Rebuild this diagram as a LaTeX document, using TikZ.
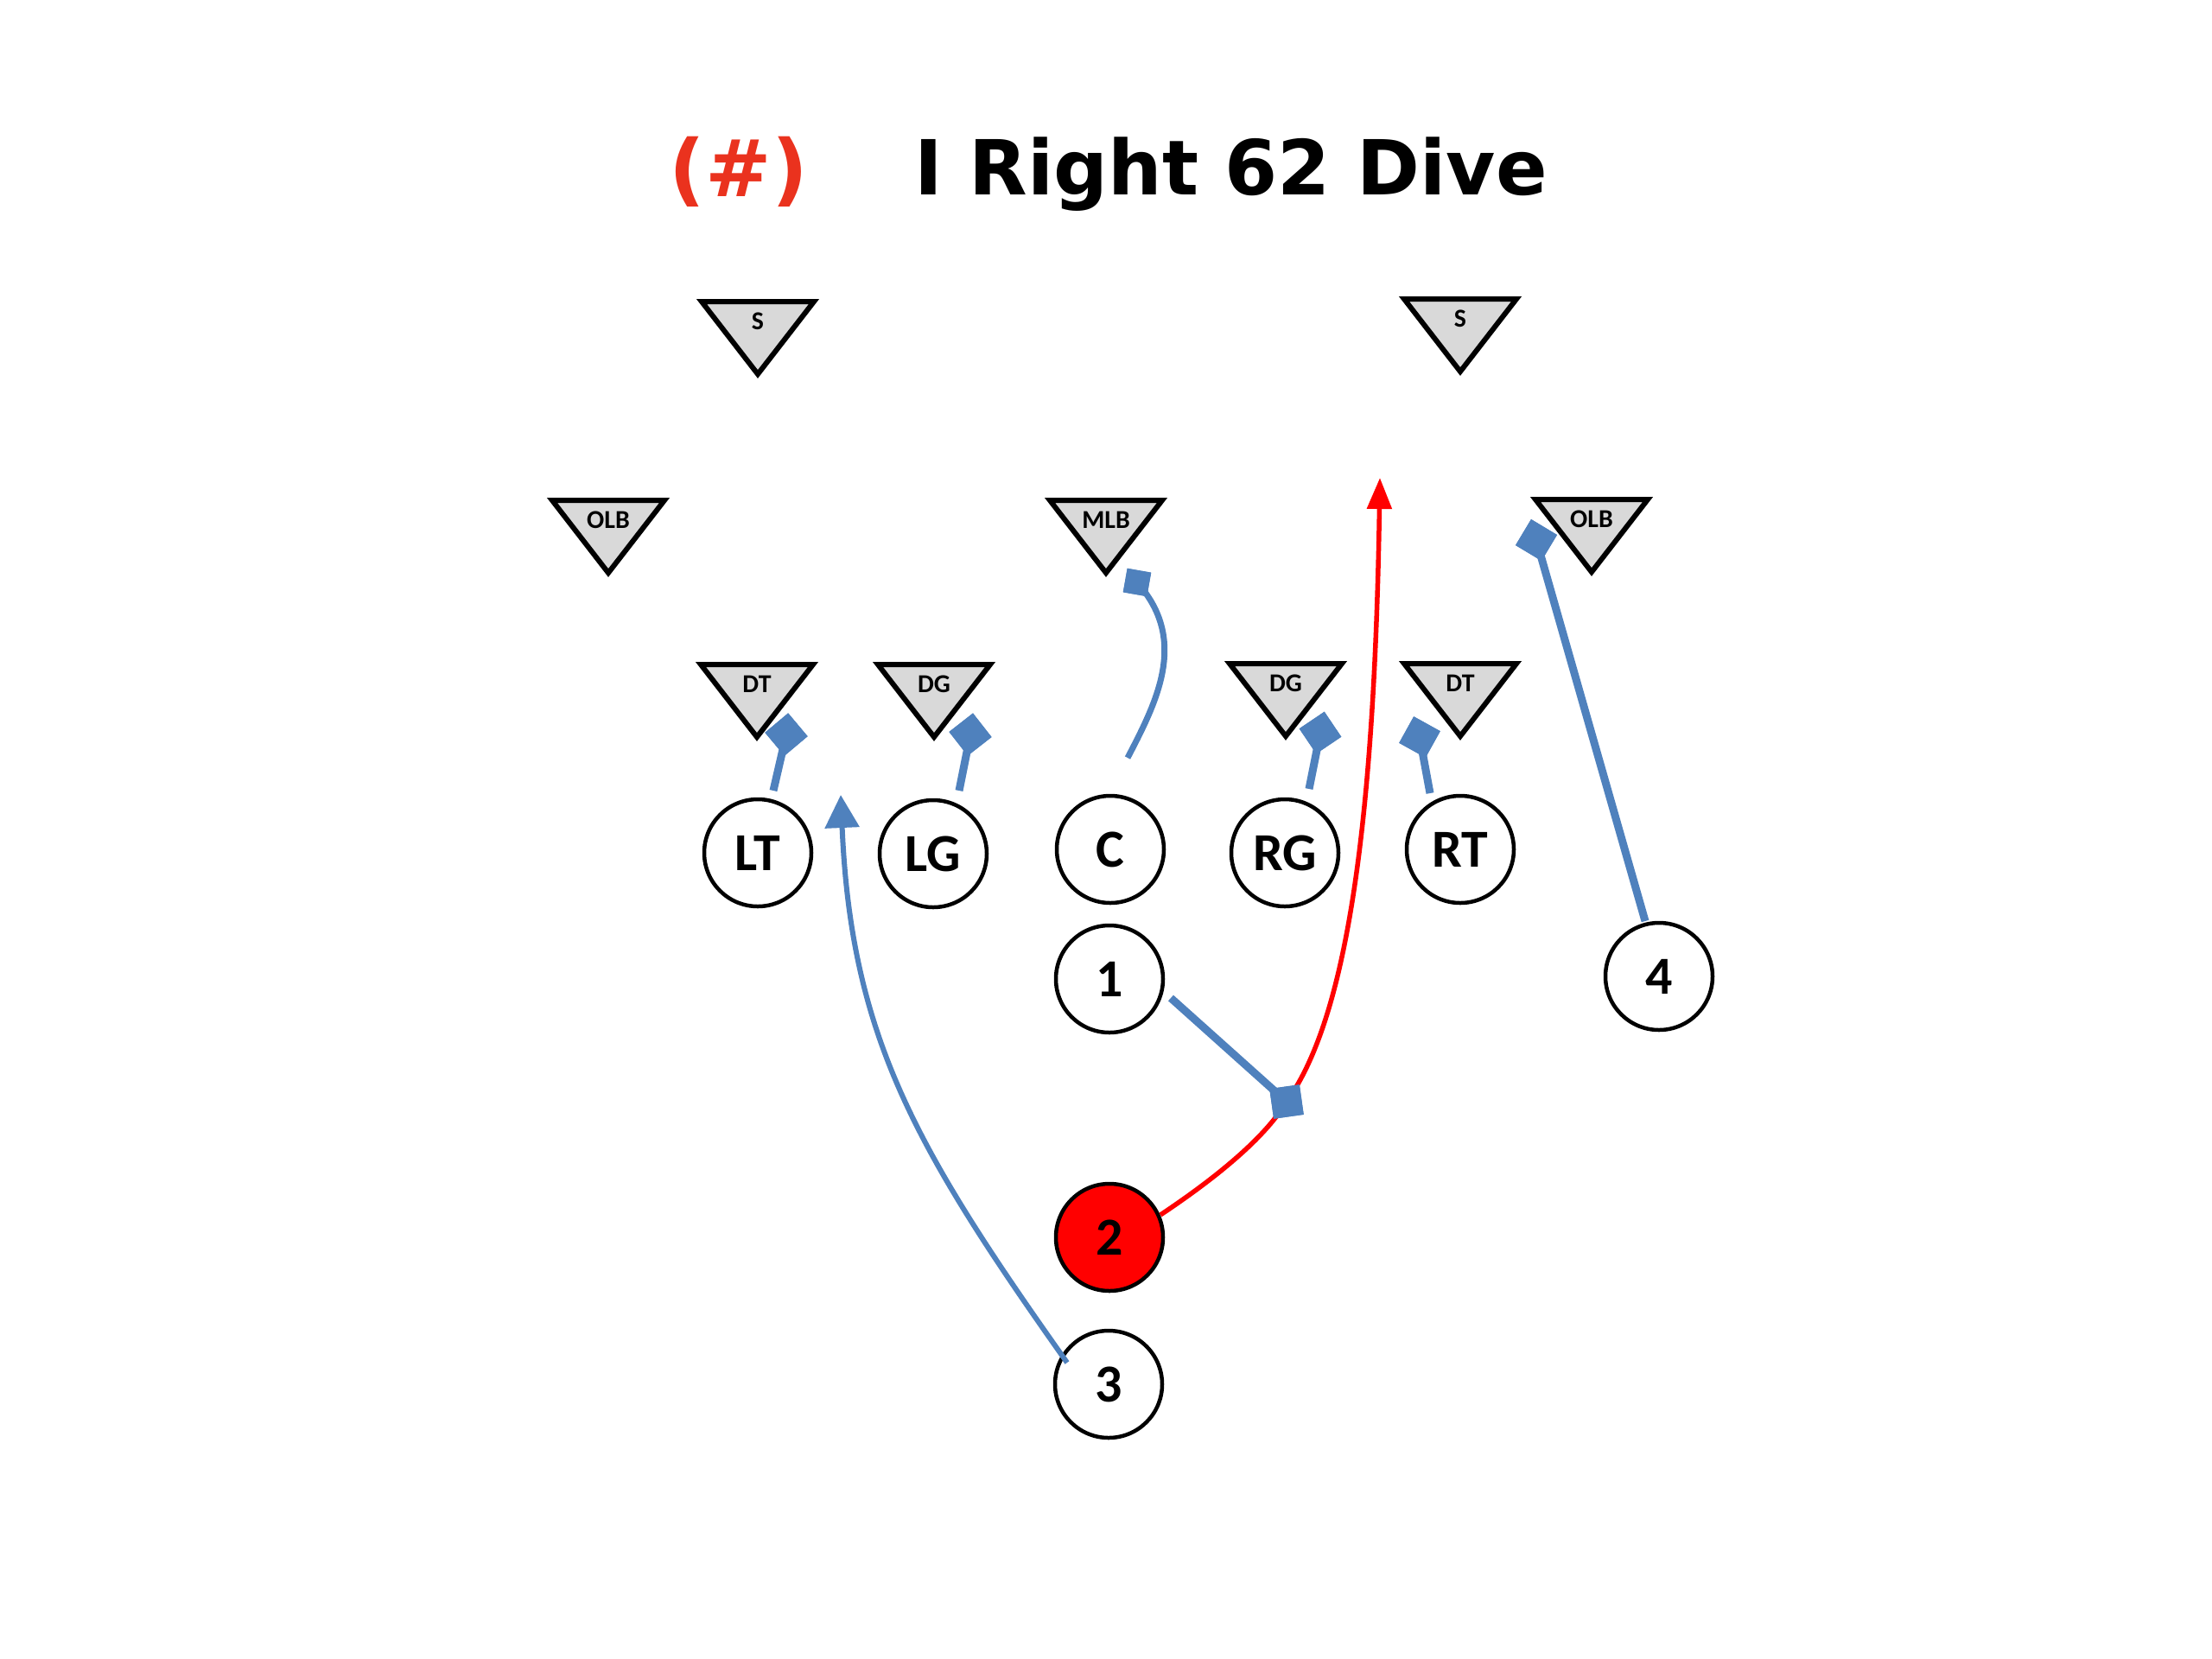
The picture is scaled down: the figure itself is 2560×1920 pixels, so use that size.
\documentclass[tikz,border=0pt]{standalone}
\usepackage{fontspec}
\usetikzlibrary{arrows.meta}
\newfontfamily\ttlfont{DejaVu Sans}
\newfontfamily\lblfont{Carlito}
\definecolor{playblue}{RGB}{79,129,189}
\definecolor{trigray}{RGB}{217,217,217}
\definecolor{ttlred}{RGB}{234,50,30}
\definecolor{runred}{RGB}{255,0,0}
\tikzset{
  player/.style={circle, draw=black, line width=0.45mm, fill=white, minimum size=12.4mm, inner sep=0pt,
    font=\lblfont\bfseries\fontsize{17.6}{20}\selectfont},
  ballcarrier/.style={player, fill=runred},
  deftri/.style={draw=black, line width=0.6mm, fill=trigray, line join=miter},
  deflabel/.style={inner sep=0pt, font=\lblfont\bfseries\fontsize{8.5}{10}\selectfont},
  blocksq/.style={rectangle, fill=playblue, draw=none, minimum size=3.5mm, inner sep=0pt},
  smallsq/.style={blocksq, minimum size=2.8mm},
  blockline/.style={draw=playblue, line width=0.9mm},
  routeline/.style={draw=playblue, line width=0.6mm, -{Triangle[width=3.9mm,length=3.8mm]}},
  runline/.style={draw=runred, line width=0.55mm, -{Triangle[width=2.8mm,length=3.6mm]}},
  ttl/.style={inner sep=0pt, anchor=base west, font=\ttlfont\bfseries\fontsize{25}{30}\selectfont},
  pics/defender/.style={code={
    \draw[deftri] (-65,0) -- (65,0) -- (0,84) -- cycle;
    \node[deflabel] (-lbl) at (0,23) {#1};
  }}
}
\begin{document}
\begin{tikzpicture}[x=0.1mm,y=-0.1mm]
\useasboundingbox (0,0) rectangle (2560,1920);
\fill[white] (0,0) rectangle (2560,1920);

% title
\node[ttl, text=ttlred, font=\ttlfont\bfseries\fontsize{26}{30}\selectfont] (num) at (774,227) {(\#)};
\node[ttl] (title) at (1058,225) {I Right 62 Dive};

% defenders
\pic (sl) at (877,349) {defender=S};
\pic (sr) at (1690,346) {defender=S};
\pic (olbl) at (704,579) {defender=OLB};
\pic (mlb) at (1280,579) {defender=MLB};
\pic (olbr) at (1842,578) {defender=OLB};
\pic (dtl) at (876,769) {defender=DT};
\pic (dgl) at (1081,769) {defender=DG};
\pic (dgr) at (1488,768) {defender=DG};
\pic (dtr) at (1690,768) {defender=DT};

% offense
\node[player] (LT) at (877,987) {LT};
\node[player] (LG) at (1080,988) {LG};
\node[player] (C) at (1285,983) {C};
\node[player] (RG) at (1487,987) {RG};
\node[player] (RT) at (1690,983) {RT};
\node[player] (p1) at (1284,1133) {1};
\node[player] (p4) at (1920,1130) {4};
\node[ballcarrier] (p2) at (1284,1432) {2};
\node[player] (p3) at (1283,1602) {3};

% block start points
\coordinate (sLT) at (895,915);
\coordinate (sLG) at (1110,915);
\coordinate (sRG) at (1515,913);
\coordinate (sRT) at (1655,918);
\coordinate (sC) at (1305,877);
\coordinate (s4) at (1904,1066);
\coordinate (s1) at (1355,1155);
\coordinate (s2) at (1343,1406);
\coordinate (s3) at (1235,1577);
\coordinate (tip3) at (973,920);
\coordinate (tip2) at (1597,553);

% red run
\coordinate (cut) at (1489,1275);
\draw[runline] (s2) .. controls (1400,1368) and (1462,1320) .. (cut)
  .. controls (1550,1190) and (1590,1000) .. (tip2);

% block squares
\node[blocksq, rotate=40] (bLT) at (910,850) {};
\node[blocksq, rotate=38] (bLG) at (1123,850) {};
\node[blocksq, rotate=34] (bRG) at (1528,848) {};
\node[blocksq, rotate=61] (bRT) at (1643,853) {};
\node[smallsq, rotate=-10] (bC) at (1316,674) {};
\node[blocksq, rotate=59] (b4) at (1778,625) {};
\node[blocksq, rotate=8] (b1) at (1489,1275) {};

% block lines
\draw[blockline] (sLT) -- (bLT.center);
\draw[blockline] (sLG) -- (bLG.center);
\draw[blockline] (sRG) -- (bRG.center);
\draw[blockline] (sRT) -- (bRT.center);
\draw[blockline, line width=0.7mm] (sC) .. controls (1340,810) and (1375,740) .. (bC.center);
\draw[blockline] (s4) -- (b4.center);
\draw[blockline] (s1) -- (b1.center);

% redraw squares on top
\node[blocksq, rotate=40] at (bLT.center) {};
\node[blocksq, rotate=38] at (bLG.center) {};
\node[blocksq, rotate=34] at (bRG.center) {};
\node[blocksq, rotate=61] at (bRT.center) {};
\node[smallsq, rotate=-10] at (bC.center) {};
\node[blocksq, rotate=59] at (b4.center) {};
\node[blocksq, rotate=8] at (b1.center) {};

% route of 3
\draw[routeline] (s3) .. controls (1060,1330) and (985,1200) .. (tip3);
\end{tikzpicture}
\end{document}
